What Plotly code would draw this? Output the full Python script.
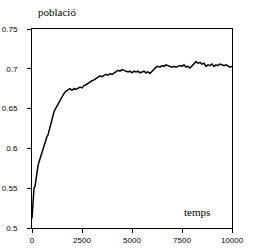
import plotly.graph_objects as go

temps = [0, 20, 40, 60, 80, 100, 150, 200, 250, 300, 350, 400, 450, 500, 550, 600, 650, 700, 750, 800,
         850, 900, 950, 1000, 1050, 1100, 1200, 1300, 1400, 1500, 1600, 1700, 1800, 1900, 2000, 2100,
         2200, 2300, 2400, 2500, 2600, 2700, 2800, 2900, 3000, 3100, 3200, 3300, 3400, 3500, 3600,
         3700, 3800, 3900, 4000, 4100, 4200, 4300, 4400, 4500, 4600, 4700, 4800, 4900, 5000, 5100,
         5200, 5300, 5400, 5500, 5600, 5700, 5800, 5900, 6000, 6100, 6200, 6300, 6400, 6500, 6600,
         6700, 6800, 6900, 7000, 7100, 7200, 7300, 7400, 7500, 7600, 7700, 7800, 7900, 8000, 8100,
         8200, 8300, 8400, 8500, 8600, 8700, 8800, 8900, 9000, 9100, 9200, 9300, 9400, 9500, 9600,
         9700, 9800, 9900, 10000]
poblacio = [0.512, 0.52, 0.533, 0.53, 0.542, 0.55, 0.552, 0.562, 0.57, 0.578, 0.583, 0.587, 0.592, 0.597,
            0.600, 0.604, 0.607, 0.612, 0.615, 0.617, 0.622, 0.627, 0.632, 0.637, 0.642, 0.646, 0.651,
            0.656, 0.659, 0.664, 0.669, 0.672, 0.674, 0.675, 0.673, 0.675, 0.674, 0.676, 0.677, 0.676,
            0.679, 0.680, 0.682, 0.684, 0.685, 0.686, 0.688, 0.689, 0.691, 0.690, 0.692, 0.693, 0.692,
            0.694, 0.693, 0.695, 0.696, 0.698, 0.697, 0.699, 0.698, 0.697, 0.696, 0.697, 0.695, 0.697,
            0.696, 0.697, 0.695, 0.696, 0.697, 0.695, 0.696, 0.694, 0.697, 0.699, 0.702, 0.703, 0.702,
            0.704, 0.703, 0.705, 0.704, 0.703, 0.702, 0.703, 0.702, 0.703, 0.704, 0.703, 0.705, 0.702,
            0.703, 0.701, 0.704, 0.707, 0.709, 0.707, 0.708, 0.706, 0.707, 0.703, 0.705, 0.704, 0.706,
            0.703, 0.705, 0.704, 0.706, 0.705, 0.704, 0.705, 0.703, 0.702, 0.703]

x_ticks = [0, 2500, 5000, 7500, 10000]
y_ticks = [0.5, 0.55, 0.6, 0.65, 0.7, 0.75]
y_tick_labels = ["0.5", "0.55", "0.6", "0.65", "0.7", "0.75"]

fig = go.Figure(go.Scatter(x=temps, y=poblacio, mode="lines",
                           line=dict(color="black", width=1.5), hoverinfo="skip"))

axis_common = dict(showline=True, linecolor="black", linewidth=1, mirror=True,
                   ticks="outside", ticklen=4, tickcolor="black", tickwidth=1,
                   showgrid=False, zeroline=False, automargin=False,
                   tickfont=dict(family="Liberation Sans", size=8, color="black"))

fig.update_layout(
    template="none",
    width=256, height=252,
    margin=dict(l=32, r=24, t=29, b=24, autoexpand=False),
    paper_bgcolor="white", plot_bgcolor="white",
    showlegend=False,
    xaxis=dict(range=[0, 10000], tickvals=x_ticks, ticktext=[str(v) for v in x_ticks], **axis_common),
    yaxis=dict(range=[0.5, 0.75], tickvals=y_ticks, ticktext=y_tick_labels,
               ticklabelstandoff=8, **axis_common),
    annotations=[
        dict(text="població", xref="paper", yref="paper", x=0.02, y=1.085,
             xanchor="left", yanchor="middle", showarrow=False,
             font=dict(family="Liberation Serif", size=11, color="black")),
        dict(text="temps", xref="paper", yref="paper", x=0.75, y=0.08,
             xanchor="left", yanchor="middle", showarrow=False,
             font=dict(family="Liberation Serif", size=11, color="black")),
    ],
)

fig.write_html("out.html")
